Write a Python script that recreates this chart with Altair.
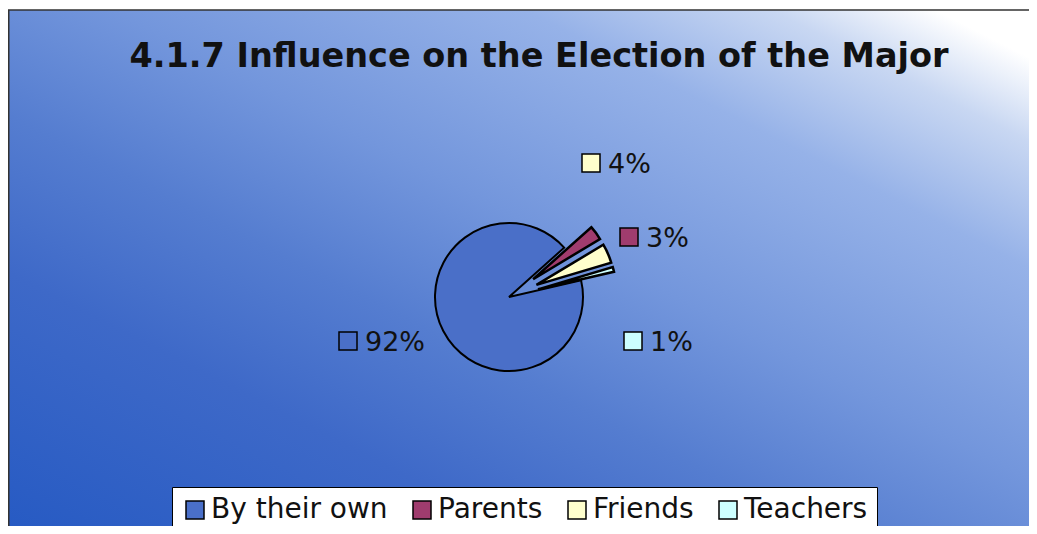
import math
import numpy as np
import pandas as pd
import altair as alt

# ---- data ----
CATEGORIES = ["By their own", "Parents", "Friends", "Teachers"]
PERCENTS = [92, 3, 4, 1]
COLORS = ["#4a6fc8", "#a03c6e", "#ffffcc", "#ccffff"]
EXPLODED = ["Parents", "Friends", "Teachers"]
TITLE = "4.1.7 Influence on the Election of the Major"

# ---- layout / style ----
W, H = 1021, 518
CX, CY = 501, 289
R_MAIN, R_EXPL, EXPLODE = 74, 78, 30
START_DEG = 77
FONT = "DejaVu Sans"
# label square centres (Excel-style manual label placement)
LABEL_LAYOUT = {
    "By their own": (340, 333),
    "Friends": (583, 155),
    "Parents": (621, 229),
    "Teachers": (625, 333),
}

cum = np.cumsum(PERCENTS)
starts = np.concatenate([[0], cum[:-1]])
df = pd.DataFrame({
    "cat": CATEGORIES,
    "pct": PERCENTS,
    "start": starts,
    "end": cum,
    "label": [f"{p}%" for p in PERCENTS],
})
df["sx"] = [LABEL_LAYOUT[c][0] for c in CATEGORIES]
df["sy"] = [LABEL_LAYOUT[c][1] for c in CATEGORIES]
df["tx"] = df["sx"] + 17
df["ty"] = df["sy"] + 10

start_rad = math.radians(START_DEG)
theta_scale = alt.Scale(domain=[0, 100], range=[start_rad, start_rad + 2 * math.pi])
color_scale = alt.Scale(domain=CATEGORIES, range=COLORS)

one = pd.DataFrame({"k": [0]})

bg = alt.Chart(one).mark_rect(
    fill=alt.Gradient(
        gradient="linear",
        x1=0, y1=1, x2=1, y2=0,
        stops=[
            alt.GradientStop(offset=0.0, color="#265ac3"),
            alt.GradientStop(offset=0.25, color="#3e69c8"),
            alt.GradientStop(offset=0.4, color="#557dd0"),
            alt.GradientStop(offset=0.55, color="#7396dc"),
            alt.GradientStop(offset=0.75, color="#96b2e8"),
            alt.GradientStop(offset=0.87, color="#c8d7f2"),
            alt.GradientStop(offset=0.95, color="#ffffff"),
        ],
    ),
    stroke="#333333",
    strokeWidth=1.5,
).encode(x=alt.value(0.75), y=alt.value(2), x2=alt.value(W + 10), y2=alt.value(H + 10))

title = alt.Chart(one).mark_text(
    text=TITLE, font=FONT, fontWeight="bold", fontSize=33.5,
    align="center", baseline="alphabetic", color="#111111",
).encode(x=alt.value(531), y=alt.value(59))

legend = alt.Legend(
    title=None, orient="none", legendX=164, legendY=479, direction="horizontal",
    symbolType="square", symbolSize=324, symbolStrokeColor="black", symbolStrokeWidth=1.5,
    symbolOpacity=1, labelFont=FONT, labelFontSize=28, labelColor="#111111",
    labelOffset=2, labelLimit=400, columnPadding=20, padding=9,
    fillColor="white", strokeColor="black",
)

main = alt.Chart(df).transform_filter(alt.datum.cat == CATEGORIES[0]).mark_arc(
    radius=R_MAIN, stroke="black", strokeWidth=2
).encode(
    theta=alt.Theta("start:Q", scale=theta_scale, stack=None),
    theta2="end:Q",
    color=alt.Color("cat:N", scale=color_scale, legend=legend),
    x=alt.value(CX), y=alt.value(CY),
)

layers = [bg, title, main]
for cat in EXPLODED:
    i = CATEGORIES.index(cat)
    mid = start_rad + 2 * math.pi * (starts[i] + cum[i]) / 2 / 100
    dx = EXPLODE * math.sin(mid)
    dy = -EXPLODE * math.cos(mid)
    layers.append(
        alt.Chart(df).transform_filter(alt.datum.cat == cat).mark_arc(
            radius=R_EXPL, stroke="black", strokeWidth=2.5, xOffset=dx, yOffset=dy
        ).encode(
            theta=alt.Theta("start:Q", scale=theta_scale, stack=None),
            theta2="end:Q",
            color=alt.Color("cat:N", scale=color_scale, legend=legend),
            x=alt.value(CX), y=alt.value(CY),
        )
    )

squares = alt.Chart(df).mark_point(
    shape="square", filled=True, size=324, stroke="black", strokeWidth=1.5, opacity=1
).encode(
    x=alt.X("sx:Q", scale=None), y=alt.Y("sy:Q", scale=None),
    fill=alt.Fill("cat:N", scale=color_scale, legend=None),
)
texts = alt.Chart(df).mark_text(
    font=FONT, fontSize=27, align="left", baseline="alphabetic", color="#111111"
).encode(x=alt.X("tx:Q", scale=None), y=alt.Y("ty:Q", scale=None), text="label:N")

layers += [squares, texts]

chart = alt.layer(*layers).properties(
    width=W, height=H, padding=0, autosize="none"
).configure_view(stroke=None)

chart.save("out.html", embed_options={"renderer": "svg", "actions": False})
